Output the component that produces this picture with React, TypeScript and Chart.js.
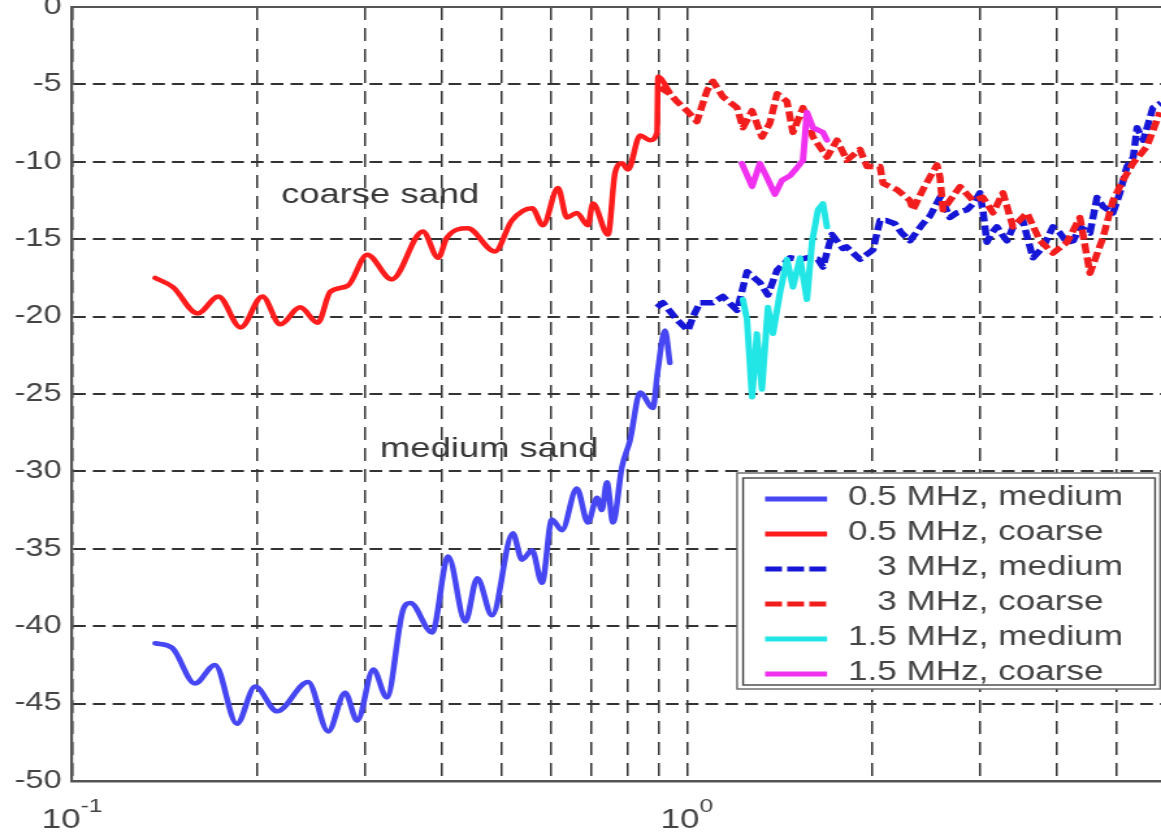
import React, { useEffect, useRef } from 'react';
import { Chart, registerables } from 'chart.js';

Chart.register(...registerables);

// ---------- data ----------
const X_GRID = [0.1, 0.2, 0.3, 0.4, 0.5, 0.6, 0.7, 0.8, 0.9, 1, 2, 3, 4, 5];
const X_MIN = 0.1;
const X_MAX = 5.9;
const Y_MIN = -50;
const Y_MAX = 0;
const Y_STEP = 5;
const X_LABELS = [
  { value: 0.1, base: '10', sup: '-1' },
  { value: 1, base: '10', sup: '0' },
];

const RED05_X = [0.1365, 0.146, 0.160, 0.173, 0.188, 0.204, 0.218, 0.235, 0.251, 0.263, 0.281, 0.302, 0.331, 0.372, 0.394, 0.407, 0.440, 0.487, 0.519, 0.560, 0.583, 0.617, 0.638, 0.662, 0.690, 0.703, 0.744, 0.764, 0.784, 0.802, 0.839, 0.871, 0.894, 0.897, 0.938];
const RED05_Y = [-17.5, -18.1, -19.8, -18.7, -20.7, -18.7, -20.5, -19.4, -20.4, -18.4, -18.0, -16.0, -17.6, -14.5, -16.2, -14.9, -14.3, -15.8, -13.8, -13.0, -14.1, -11.7, -13.6, -13.3, -14.1, -12.7, -14.7, -10.7, -10.1, -10.5, -8.3, -8.6, -8.1, -4.5, -5.5];

const BLUE05_X = [0.1365, 0.1455, 0.1585, 0.1708, 0.1854, 0.1985, 0.2155, 0.242, 0.261, 0.278, 0.291, 0.309, 0.325, 0.345, 0.355, 0.385, 0.409, 0.436, 0.456, 0.482, 0.521, 0.539, 0.560, 0.581, 0.603, 0.626, 0.662, 0.690, 0.714, 0.727, 0.741, 0.758, 0.784, 0.808, 0.839, 0.880, 0.897, 0.921, 0.938];
const BLUE05_Y = [-41.1, -41.4, -43.7, -42.5, -46.3, -43.9, -45.5, -43.6, -46.8, -44.3, -46.1, -42.8, -44.6, -39.0, -38.5, -40.4, -35.5, -39.7, -36.9, -39.3, -34.0, -35.7, -35.1, -37.2, -33.1, -33.8, -31.1, -33.3, -31.7, -32.5, -30.7, -33.3, -29.7, -28.0, -24.9, -25.9, -23.4, -20.9, -23.0];

const BLUE3_X = [0.894, 0.914, 0.963, 1.004, 1.023, 1.050, 1.102, 1.144, 1.206, 1.252, 1.314, 1.354, 1.401, 1.471, 1.527, 1.567, 1.633, 1.664, 1.721, 1.793, 1.818, 1.911, 2.006, 2.060, 2.112, 2.179, 2.234, 2.305, 2.419, 2.484, 2.579, 2.628, 2.677, 2.745, 2.854, 2.922, 2.995, 3.032, 3.074, 3.130, 3.192, 3.268, 3.314, 3.393, 3.518, 3.589, 3.653, 3.797, 3.936, 4.042, 4.149, 4.249, 4.355, 4.522, 4.642, 4.753, 4.929, 5.059, 5.194, 5.318, 5.393, 5.521, 5.725, 5.898];
const BLUE3_Y = [-19.4, -19.1, -20.2, -20.9, -20.0, -19.1, -19.1, -18.7, -19.6, -17.1, -17.8, -18.6, -17.0, -16.2, -16.3, -16.2, -16.3, -16.8, -14.7, -15.6, -15.5, -16.3, -15.7, -13.8, -13.8, -14.0, -14.6, -15.1, -14.0, -13.5, -12.3, -12.9, -13.6, -13.3, -13.1, -12.7, -12.0, -13.3, -15.2, -14.6, -14.2, -14.8, -15.1, -14.2, -13.8, -15.1, -16.2, -15.5, -14.2, -14.6, -15.2, -15.1, -14.2, -14.6, -12.3, -12.9, -13.3, -12.0, -10.3, -9.7, -7.8, -8.6, -6.5, -6.2];

const RED3_X = [0.904, 0.938, 0.963, 1.000, 1.038, 1.078, 1.102, 1.144, 1.206, 1.233, 1.276, 1.324, 1.364, 1.401, 1.454, 1.487, 1.544, 1.603, 1.689, 1.754, 1.820, 1.911, 1.962, 2.060, 2.084, 2.195, 2.305, 2.331, 2.419, 2.550, 2.579, 2.608, 2.780, 2.917, 3.029, 3.145, 3.265, 3.389, 3.572, 3.750, 3.936, 4.149, 4.355, 4.522, 4.747, 4.929, 5.117, 5.312, 5.598, 5.875];
const RED3_Y = [-5.2, -5.6, -6.1, -6.7, -7.4, -5.4, -4.8, -5.8, -6.5, -7.8, -6.7, -8.4, -7.5, -5.6, -6.1, -8.1, -6.5, -8.4, -9.7, -8.6, -9.9, -9.2, -10.3, -10.3, -11.4, -11.8, -12.5, -13.1, -11.8, -10.2, -11.0, -13.1, -11.6, -12.5, -12.3, -13.3, -12.0, -14.2, -13.3, -15.1, -15.9, -15.2, -13.6, -17.2, -14.9, -12.5, -11.2, -10.1, -9.0, -6.8];

const CYAN15_X = [1.233, 1.252, 1.276, 1.299, 1.324, 1.354, 1.380, 1.416, 1.454, 1.487, 1.527, 1.567, 1.597, 1.633, 1.664, 1.689];
const CYAN15_Y = [-18.9, -20.2, -25.2, -21.1, -24.7, -19.4, -21.1, -18.5, -16.3, -18.1, -16.2, -18.9, -15.2, -13.1, -12.7, -14.2];

const MAG15_X = [1.228, 1.276, 1.314, 1.349, 1.390, 1.427, 1.471, 1.509, 1.544, 1.567, 1.603, 1.664, 1.689];
const MAG15_Y = [-10.1, -11.6, -10.1, -11.0, -12.1, -11.2, -10.9, -10.4, -9.9, -6.8, -7.8, -8.1, -8.6];

const SERIES_LABELS = [
  '0.5 MHz, medium',
  '0.5 MHz, coarse',
  '   3 MHz, medium',
  '   3 MHz, coarse',
  '1.5 MHz, medium',
  '1.5 MHz, coarse',
];

const ANNOTATIONS = [
  { text: 'coarse sand', x: 0.2187, y: -12.66 },
  { text: 'medium sand', x: 0.3168, y: -29.07 },
];

// ---------- layout / style ----------
const W = 1161;
const H = 834;
const S = 1.3; // horizontal stretch of the original figure
const IW = Math.round(W / S);
const FONT = '"Liberation Sans", Arial, Helvetica, sans-serif';

const pts = (xs: number[], ys: number[]) => xs.map((x, i) => ({ x, y: ys[i] }));

const overlayPlugin = {
  id: 'overlay',
  afterDraw(chart: any) {
    const { ctx, chartArea, scales } = chart;
    const xs = scales.x;
    const ys = scales.y;
    ctx.save();
    // solid top frame line
    ctx.strokeStyle = '#555';
    ctx.lineWidth = 2.2;
    ctx.setLineDash([]);
    ctx.beginPath();
    ctx.moveTo(chartArea.left, chartArea.top);
    ctx.lineTo(chartArea.right, chartArea.top);
    ctx.stroke();

    // x tick labels with superscripts
    ctx.fillStyle = '#444';
    ctx.textAlign = 'left';
    ctx.textBaseline = 'alphabetic';
    X_LABELS.forEach(({ value, base, sup }) => {
      const px = xs.getPixelForValue(value);
      ctx.font = `27px ${FONT}`;
      const wb = ctx.measureText(base).width;
      ctx.font = `19px ${FONT}`;
      const wsup = ctx.measureText(sup).width;
      const start = px - (wb + wsup) / 2;
      ctx.font = `27px ${FONT}`;
      ctx.fillText(base, start, chartArea.bottom + 47);
      ctx.font = `19px ${FONT}`;
      ctx.fillText(sup, start + wb, chartArea.bottom + 31);
    });

    // annotations
    ctx.font = `28px ${FONT}`;
    ctx.fillStyle = '#383838';
    ANNOTATIONS.forEach((a) => {
      ctx.fillText(a.text, xs.getPixelForValue(a.x), ys.getPixelForValue(a.y));
    });

    // legend box
    const oL = 737 / S, oR = 1160 / S, oT = 473, oB = 689;
    const iL = 743 / S, iR = 1155 / S, iT = 478, iB = 685;
    ctx.fillStyle = '#fff';
    ctx.fillRect(oL, oT, oR - oL, oB - oT);
    ctx.lineWidth = 1.4;
    ctx.strokeStyle = '#666';
    ctx.strokeRect(oL, oT, oR - oL, oB - oT);
    ctx.strokeStyle = '#444';
    ctx.strokeRect(iL, iT, iR - iL, iB - iT);

    const sx0 = 765 / S, sx1 = 827 / S, tx = 848 / S;
    chart.data.datasets.forEach((ds: any, i: number) => {
      const base = 505 + i * 35;
      ctx.strokeStyle = ds.borderColor;
      ctx.lineWidth = 5;
      ctx.lineCap = 'butt';
      ctx.setLineDash(ds.borderDash && ds.borderDash.length ? [13, 4] : []);
      ctx.beginPath();
      ctx.moveTo(sx0, base - 6);
      ctx.lineTo(sx1, base - 6);
      ctx.stroke();
      ctx.setLineDash([]);
      ctx.fillStyle = '#444';
      ctx.font = `27px ${FONT}`;
      ctx.fillText(SERIES_LABELS[i], tx, base);
    });
    ctx.restore();
  },
};

export default function App() {
  const ref = useRef<HTMLCanvasElement>(null);
  useEffect(() => {
    const canvas = ref.current;
    if (!canvas) return;
    const solid = { borderWidth: 4.5, pointRadius: 0, borderJoinStyle: 'round', borderCapStyle: 'round', cubicInterpolationMode: 'monotone' };
    const dashed = { borderWidth: 5.5, pointRadius: 0, borderJoinStyle: 'round', borderCapStyle: 'butt', borderDash: [10, 4], tension: 0 };
    const noisy = { borderWidth: 5, pointRadius: 0, borderJoinStyle: 'round', borderCapStyle: 'round', tension: 0 };
    const chart = new Chart(canvas, {
      type: 'line',
      data: {
        datasets: [
          { label: SERIES_LABELS[0], data: pts(BLUE05_X, BLUE05_Y), borderColor: '#4646f2', order: 4, ...solid },
          { label: SERIES_LABELS[1], data: pts(RED05_X, RED05_Y), borderColor: '#ff1c1c', order: 4, ...solid },
          { label: SERIES_LABELS[2], data: pts(BLUE3_X, BLUE3_Y), borderColor: '#1616d6', order: 3, ...dashed },
          { label: SERIES_LABELS[3], data: pts(RED3_X, RED3_Y), borderColor: '#f21e1e', order: 2, ...dashed },
          { label: SERIES_LABELS[4], data: pts(CYAN15_X, CYAN15_Y), borderColor: '#22e6e6', order: 1, ...noisy },
          { label: SERIES_LABELS[5], data: pts(MAG15_X, MAG15_Y), borderColor: '#f032f0', order: 0, ...noisy },
        ] as any,
      },
      options: {
        animation: false,
        responsive: false,
        devicePixelRatio: 1,
        events: [],
        layout: { padding: { top: 7, right: 0, left: 0, bottom: 0 }, autoPadding: false } as any,
        plugins: { legend: { display: false }, tooltip: { enabled: false } },
        scales: {
          x: {
            type: 'logarithmic',
            min: X_MIN,
            max: X_MAX,
            afterBuildTicks: (s: any) => {
              s.ticks = X_GRID.map((v) => ({ value: v }));
            },
            ticks: { display: false },
            grid: { color: '#333', lineWidth: 1.5, drawTicks: false },
            border: { display: true, color: '#555', width: 2.4, dash: [13, 8] },
            afterFit: (s: any) => {
              s.height = H - 781;
              s.paddingLeft = 0;
              s.paddingRight = 0;
            },
          } as any,
          y: {
            type: 'linear',
            min: Y_MIN,
            max: Y_MAX,
            ticks: { stepSize: Y_STEP, padding: 8, color: '#444', font: { family: FONT, size: 25 } },
            grid: { color: '#333', lineWidth: 2, drawTicks: false },
            border: { display: true, color: '#555', width: 2.2, dash: [9.8, 5.4] },
            afterFit: (s: any) => {
              s.width = 72 / S;
              s.paddingTop = 0;
              s.paddingBottom = 0;
            },
          } as any,
        },
      },
      plugins: [overlayPlugin],
    } as any);
    return () => chart.destroy();
  }, []);

  return (
    <div style={{ position: 'fixed', left: 0, top: 0, width: W, height: H, background: '#fff', overflow: 'hidden' }}>
      <canvas ref={ref} width={IW} height={H} style={{ width: `${W}px`, height: `${H}px`, display: 'block' }} />
    </div>
  );
}
